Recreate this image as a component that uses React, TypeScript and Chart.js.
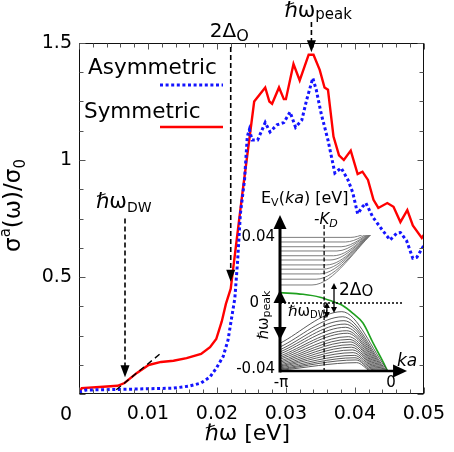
import { useEffect, useRef } from "react";
import { Chart, registerables } from "chart.js";

Chart.register(...registerables);

const FONT = "'DejaVu Sans', 'Noto Sans', sans-serif";

// σ^a(ω)/σ0 versus ħω [eV] for the two stacking orders
const symOmega = [0, 0.0004, 0.003, 0.0056, 0.0066, 0.0084, 0.0101, 0.0119, 0.0137, 0.0156, 0.0177, 0.019, 0.0199, 0.0207, 0.0213, 0.022, 0.0237, 0.0254, 0.027, 0.0276, 0.028, 0.029, 0.0297, 0.03, 0.0311, 0.032, 0.0333, 0.034, 0.0349, 0.0356, 0.0361, 0.0369, 0.0377, 0.0384, 0.0394, 0.0404, 0.0411, 0.0419, 0.0427, 0.0434, 0.0447, 0.0456, 0.0466, 0.0476, 0.0484, 0.0497, 0.05];
const symSigma = [0.004, 0.025, 0.03, 0.035, 0.047, 0.09, 0.124, 0.137, 0.142, 0.153, 0.171, 0.2, 0.235, 0.31, 0.385, 0.45, 0.86, 1.25, 1.31, 1.25, 1.24, 1.31, 1.26, 1.26, 1.41, 1.34, 1.45, 1.45, 1.385, 1.31, 1.3, 1.1, 1.02, 1.0, 1.04, 0.94, 0.95, 0.915, 0.83, 0.795, 0.816, 0.8, 0.735, 0.786, 0.72, 0.667, 0.68];
const asymOmega = [0, 0.001, 0.0066, 0.0137, 0.016, 0.0177, 0.019, 0.0199, 0.0209, 0.0216, 0.0226, 0.023, 0.0234, 0.024, 0.0244, 0.0247, 0.0251, 0.0259, 0.027, 0.0277, 0.0287, 0.0297, 0.0306, 0.0314, 0.0323, 0.033, 0.0339, 0.0344, 0.0351, 0.0361, 0.0371, 0.038, 0.039, 0.0397, 0.0404, 0.0411, 0.0416, 0.0426, 0.044, 0.0451, 0.0461, 0.0466, 0.0475, 0.0484, 0.049, 0.05];
const asymSigma = [0.008, 0.017, 0.02, 0.025, 0.034, 0.047, 0.073, 0.11, 0.16, 0.23, 0.41, 0.57, 0.77, 0.915, 1.1, 1.13, 1.085, 1.085, 1.16, 1.12, 1.15, 1.16, 1.205, 1.14, 1.17, 1.256, 1.35, 1.3, 1.2, 1.085, 0.944, 0.966, 0.915, 0.86, 0.77, 0.8, 0.816, 0.756, 0.7, 0.658, 0.688, 0.69, 0.655, 0.58, 0.585, 0.635];

const xMax = 0.05;
const yMax = 1.5;
const xMinorStep = 0.002;
const xMajorStep = 0.01;
const yMinorStep = 0.125;
const yMajorStep = 0.5;

// marked energies on the spectrum
const twoDeltaO = 0.022;
const twoDeltaOSpan = [1.483, 0.48];
const omegaPeak = 0.0337;
const omegaPeakSpan = [1.59, 1.46];
const omegaDW = 0.00667;
const omegaDWSpan = [0.75, 0.072];
const tangentOmega = [0.0054, 0.0119];
const tangentSigma = [0.018, 0.175];

// inset: valence band structure E_V(ka)
const PI = Math.PI;
const greenKa = [-PI, -2.48, -1.99, -1.61, -1.36, -1.04, -0.75, -0.46, -0.2, -0.04];
const greenE = [0.0061, 0.0051, 0.0034, 0.0008, -0.0012, -0.0061, -0.0118, -0.0235, -0.0335, -0.04];
const upperE = [0.0441, 0.0414, 0.0386, 0.0359, 0.0331, 0.0306, 0.0278, 0.0253, 0.0224, 0.0199, 0.0171, 0.014, 0.0106];
const upperBendKa = [-0.32, -0.95, -1.1, -1.25, -1.38, -1.5, -1.6, -1.7, -1.8, -1.9, -2.0, -2.1, -2.22];
const upperJoinKa = -0.32;
const upperJoinE = 0.0441;
const lowerStartE = [-0.0237, -0.0259, -0.0275, -0.0288, -0.03, -0.0312, -0.0322, -0.0331, -0.0341, -0.0349, -0.0357, -0.0365, -0.0371, -0.0376, -0.0382, -0.0388, -0.0392, -0.0396];
const lowerPeakKa = [-1.36, -1.33, -1.3, -1.27, -1.25, -1.22, -1.2, -1.17, -1.15, -1.12, -1.1, -1.08, -1.05, -1.03, -1.0, -0.98, -0.95, -0.93];
const lowerPeakE = [-0.0051, -0.0081, -0.0104, -0.0124, -0.0143, -0.0163, -0.0178, -0.0198, -0.0214, -0.0229, -0.0245, -0.026, -0.0276, -0.0292, -0.0308, -0.0322, -0.0335, -0.0351];
const lowerEndKa = [-0.03, -0.07, -0.1, -0.13, -0.16, -0.19, -0.22, -0.25, -0.28, -0.31, -0.34, -0.37, -0.4, -0.43, -0.46, -0.5, -0.53, -0.56];
const bandBottomE = -0.04;

const kD = -1.87;
const kDTopE = 0.0459;
const yAxisTipE = 0.0518;
const xAxisTipKa = 0.52;
const zeroLineEndKa = 0.4;
const peakSpanE = [0.0077, -0.0218];
const twoDeltaKa = -1.585;
const twoDeltaSpanE = [0.0118, -0.0059];
const dwKa = -1.79;
const dwSpanE = [0.0006, -0.0088];

type Part = { t: string; size: number; italic?: boolean; dy?: number };

function fontOf(p: Part) {
  return `${p.italic ? "italic " : ""}${p.size}px ${FONT}`;
}

function drawRich(ctx: CanvasRenderingContext2D, x: number, y: number, parts: Part[], align: "left" | "center" | "right" = "left") {
  let w = 0;
  for (const p of parts) {
    ctx.font = fontOf(p);
    w += ctx.measureText(p.t).width;
  }
  let cx = align === "center" ? x - w / 2 : align === "right" ? x - w : x;
  ctx.textAlign = "left";
  ctx.textBaseline = "alphabetic";
  for (const p of parts) {
    ctx.font = fontOf(p);
    ctx.fillText(p.t, cx, y + (p.dy || 0));
    cx += ctx.measureText(p.t).width;
  }
}

function seg(ctx: CanvasRenderingContext2D, x0: number, y0: number, x1: number, y1: number) {
  ctx.beginPath();
  ctx.moveTo(x0, y0);
  ctx.lineTo(x1, y1);
  ctx.stroke();
}

function head(ctx: CanvasRenderingContext2D, tx: number, ty: number, dx: number, dy: number, len: number, half: number) {
  const bx = tx - dx * len;
  const by = ty - dy * len;
  ctx.beginPath();
  ctx.moveTo(tx, ty);
  ctx.lineTo(bx - dy * half, by + dx * half);
  ctx.lineTo(bx + dy * half, by - dx * half);
  ctx.closePath();
  ctx.fill();
}

const isMultiple = (v: number, step: number) => Math.abs(v / step - Math.round(v / step)) < 1e-6;

const mainDecor = {
  id: "mainDecor",
  afterDatasetsDraw(chart: any) {
    const { ctx, chartArea: a, scales } = chart;
    const xs = scales.x;
    const ys = scales.y;
    const X = (v: number) => xs.getPixelForValue(v);
    const Y = (v: number) => ys.getPixelForValue(v);
    ctx.save();

    // frame with inward ticks on all four sides
    const L = Math.round(a.left) + 0.5;
    const R = Math.round(a.right) - 0.5;
    const T = Math.round(a.top) + 0.5;
    const B = Math.round(a.bottom) - 0.5;
    ctx.strokeStyle = "#111";
    ctx.lineWidth = 1;
    ctx.strokeRect(L, T, R - L, B - T);
    ctx.strokeStyle = "#555";
    xs.ticks.forEach((t: any) => {
      const p = Math.round(X(t.value)) + 0.5;
      const len = isMultiple(t.value, xMajorStep) ? 6 : 4;
      seg(ctx, p, B, p, B - len);
      seg(ctx, p, T, p, T + len);
    });
    ys.ticks.forEach((t: any) => {
      const p = Math.round(Y(t.value)) + 0.5;
      const len = isMultiple(t.value, yMajorStep) ? 6 : 4;
      seg(ctx, L, p, L + len, p);
      seg(ctx, R, p, R - len, p);
    });

    ctx.fillStyle = "#000";
    ctx.strokeStyle = "#000";

    // origin label sits left of the corner
    ctx.font = `19px ${FONT}`;
    ctx.textAlign = "center";
    ctx.textBaseline = "middle";
    ctx.fillText("0", a.left - 13, a.bottom + 21);

    // dashed markers
    ctx.lineWidth = 1.6;
    const marker = (omega: number, s0: number, s1: number) => {
      const px = X(omega);
      const y0 = Y(s0);
      const y1 = Y(s1);
      ctx.setLineDash([5, 3]);
      seg(ctx, px, y0, px, y1 - 10);
      ctx.setLineDash([]);
      head(ctx, px, y1, 0, 1, 12, 4.5);
      return px;
    };
    const p2d = marker(twoDeltaO, twoDeltaOSpan[0], twoDeltaOSpan[1]);
    drawRich(ctx, p2d - 21, a.top - 6, [
      { t: "2Δ", size: 20 },
      { t: "O", size: 16, dy: 4 },
    ]);
    const pPk = marker(omegaPeak, omegaPeakSpan[0], omegaPeakSpan[1]);
    drawRich(ctx, pPk - 27, a.top - 26, [
      { t: "ℏω", size: 21 },
      { t: "peak", size: 15, dy: 2 },
    ]);
    const pDw = marker(omegaDW, omegaDWSpan[0], omegaDWSpan[1]);
    drawRich(ctx, pDw - 29, Y(omegaDWSpan[0]) - 11, [
      { t: "ℏω", size: 21 },
      { t: "DW", size: 14, dy: 4 },
    ]);

    // tangent at the DW onset
    ctx.setLineDash([6, 4]);
    ctx.lineWidth = 1.4;
    seg(ctx, X(tangentOmega[0]), Y(tangentSigma[0]), X(tangentOmega[1]), Y(tangentSigma[1]));
    ctx.setLineDash([]);

    // legend: label above a line sample
    const ds = chart.data.datasets;
    const legendRows = [
      { ds: ds[0], textX: a.left + 9, base: a.top + 31, lineY: a.top + 42 },
      { ds: ds[1], textX: a.left + 5, base: a.top + 75, lineY: a.top + 84 },
    ];
    legendRows.forEach((r) => {
      ctx.fillStyle = "#000";
      drawRich(ctx, r.textX, r.base, [{ t: r.ds.label, size: 21.5 }]);
      ctx.strokeStyle = r.ds.borderColor;
      ctx.lineWidth = r.ds.borderWidth;
      ctx.lineCap = "butt";
      ctx.setLineDash(r.ds.borderDash || []);
      seg(ctx, a.left + 81, r.lineY, a.left + 144, r.lineY);
      ctx.setLineDash([]);
    });

    // axis titles
    ctx.fillStyle = "#000";
    drawRich(ctx, (a.left + a.right) / 2 - 4, a.bottom + 46, [{ t: "ℏω [eV]", size: 22 }], "center");
    ctx.save();
    ctx.translate(20, (a.top + a.bottom) / 2 - 13);
    ctx.rotate(-Math.PI / 2);
    drawRich(ctx, 0, 0, [
      { t: "σ", size: 23 },
      { t: "a", size: 15, dy: -10 },
      { t: "(ω)/σ", size: 23 },
      { t: "0", size: 15, dy: 5 },
    ], "center");
    ctx.restore();

    ctx.restore();
  },
};

const insetDecor = {
  id: "insetDecor",
  afterDatasetsDraw(chart: any) {
    const { ctx, scales } = chart;
    const X = (v: number) => scales.x.getPixelForValue(v);
    const Y = (v: number) => scales.y.getPixelForValue(v);
    const x0 = X(-PI);
    const yB = Y(bandBottomE);
    ctx.save();
    ctx.strokeStyle = "#000";
    ctx.fillStyle = "#000";

    // -K_D and E = 0 guides
    ctx.lineWidth = 1.3;
    ctx.setLineDash([4, 2.5]);
    seg(ctx, X(kD), Y(kDTopE), X(kD), yB);
    ctx.setLineDash([2, 2]);
    seg(ctx, x0, Y(0), X(zeroLineEndKa), Y(0));
    ctx.setLineDash([]);

    // axes as arrows
    ctx.lineWidth = 3;
    seg(ctx, x0, yB + 1.5, x0, Y(yAxisTipE) + 12);
    head(ctx, x0, Y(yAxisTipE), 0, -1, 14, 6.5);
    ctx.lineWidth = 2.5;
    seg(ctx, x0, yB, X(xAxisTipKa) - 12, yB);
    head(ctx, X(xAxisTipKa), yB, 1, 0, 14, 6.5);

    // ħω_peak span on the energy axis
    head(ctx, x0, Y(peakSpanE[0]), 0, -1, 13, 6.5);
    head(ctx, x0, Y(peakSpanE[1]), 0, 1, 13, 6.5);

    // 2Δ_O and ħω_DW double arrows
    const dbl = (k: number, e0: number, e1: number) => {
      const px = X(k);
      ctx.lineWidth = 1.3;
      seg(ctx, px, Y(e0) + 5, px, Y(e1) - 5);
      head(ctx, px, Y(e0), 0, -1, 6, 3);
      head(ctx, px, Y(e1), 0, 1, 6, 3);
    };
    dbl(twoDeltaKa, twoDeltaSpanE[0], twoDeltaSpanE[1]);
    dbl(dwKa, dwSpanE[0], dwSpanE[1]);

    // tick labels
    ctx.font = `15px ${FONT}`;
    ctx.textBaseline = "middle";
    ctx.textAlign = "right";
    ctx.fillText("0.04", x0 - 5, Y(0.04) + 2);
    ctx.fillText("-0.04", x0 - 5, yB - 2);
    ctx.fillText("0", x0 - 21, Y(0));
    ctx.textAlign = "center";
    ctx.fillText("-π", x0 + 1, yB + 12);
    ctx.fillText("0", X(0) + 2, yB + 12);

    // labels
    drawRich(ctx, X(0) + 8, yB - 5, [{ t: "ka", size: 17, italic: true }]);
    drawRich(ctx, x0 - 19, Y(0.04) - 32, [
      { t: "E", size: 16 },
      { t: "V", size: 11, dy: 3 },
      { t: "(", size: 16 },
      { t: "ka", size: 16, italic: true },
      { t: ") [eV]", size: 16 },
    ]);
    drawRich(ctx, X(kD) - 10, Y(0.04) - 11, [
      { t: "-K", size: 15, italic: true },
      { t: "D", size: 11, italic: true, dy: 3 },
    ]);
    drawRich(ctx, X(twoDeltaKa) + 5, Y(0) - 8, [
      { t: "2Δ", size: 17 },
      { t: "O", size: 15, dy: 1 },
    ]);
    drawRich(ctx, x0 + 8, Y(0) + 13, [
      { t: "ℏω", size: 15 },
      { t: "DW", size: 10, dy: 2 },
    ]);
    ctx.save();
    ctx.translate(x0 - 12, Y((peakSpanE[0] + peakSpanE[1]) / 2));
    ctx.rotate(-Math.PI / 2);
    drawRich(ctx, 0, 0, [
      { t: "ℏω", size: 15 },
      { t: "peak", size: 11, dy: 2 },
    ], "center");
    ctx.restore();

    ctx.restore();
  },
};

export default function App() {
  const mainRef = useRef<HTMLCanvasElement>(null);
  const insetRef = useRef<HTMLCanvasElement>(null);

  useEffect(() => {
    const xLabel = (v: any) => {
      const n = Math.round(Number(v) / xMajorStep);
      return isMultiple(Number(v), xMajorStep) && n > 0 ? (n * xMajorStep).toFixed(2) : "";
    };
    const yLabel = (v: any) => {
      const n = Math.round(Number(v) / yMajorStep);
      return isMultiple(Number(v), yMajorStep) && n > 0 ? String(n * yMajorStep) : "";
    };

    const main = new Chart(mainRef.current as HTMLCanvasElement, {
      type: "scatter",
      data: {
        datasets: [
          {
            label: "Asymmetric",
            data: asymOmega.map((x, i) => ({ x, y: asymSigma[i] })),
            showLine: true,
            borderColor: "#1414ff",
            borderWidth: 3,
            borderDash: [3, 2.6],
            borderCapStyle: "butt",
            pointRadius: 0,
            fill: false,
          },
          {
            label: "Symmetric",
            data: symOmega.map((x, i) => ({ x, y: symSigma[i] })),
            showLine: true,
            borderColor: "#ff0000",
            borderWidth: 2.4,
            pointRadius: 0,
            fill: false,
          },
        ],
      },
      options: {
        responsive: false,
        animation: false,
        events: [],
        layout: { padding: { top: 43, right: 25, left: 0, bottom: 0 } },
        plugins: { legend: { display: false }, tooltip: { enabled: false } },
        scales: {
          x: {
            type: "linear",
            min: 0,
            max: xMax,
            afterFit: (s: any) => {
              s.height = 58;
            },
            grid: { display: false, drawTicks: false },
            border: { display: false },
            ticks: {
              stepSize: xMinorStep,
              autoSkip: false,
              maxRotation: 0,
              padding: 9,
              color: "#000",
              font: { family: FONT, size: 19 },
              callback: xLabel,
            },
          },
          y: {
            type: "linear",
            min: 0,
            max: yMax,
            afterFit: (s: any) => {
              s.width = 79;
            },
            grid: { display: false, drawTicks: false },
            border: { display: false },
            ticks: {
              stepSize: yMinorStep,
              autoSkip: false,
              padding: 7,
              color: "#000",
              font: { family: FONT, size: 19 },
              callback: yLabel,
            },
          },
        },
      } as any,
      plugins: [mainDecor],
    });

    const bandStyle = { showLine: true, pointRadius: 0, fill: false, cubicInterpolationMode: "monotone" as const };
    const insetSets: any[] = [];
    upperE.forEach((e, i) => {
      const pts = upperBendKa[i] >= upperJoinKa
        ? [{ x: -PI, y: e }, { x: upperJoinKa, y: e }]
        : [{ x: -PI, y: e }, { x: upperBendKa[i], y: e }, { x: upperJoinKa, y: upperJoinE }];
      insetSets.push({ ...bandStyle, data: pts, borderColor: "#6e6e6e", borderWidth: 0.9 });
    });
    lowerStartE.forEach((e, i) => {
      insetSets.push({
        ...bandStyle,
        data: [
          { x: -PI, y: e },
          { x: lowerPeakKa[i], y: lowerPeakE[i] },
          { x: lowerEndKa[i], y: bandBottomE },
        ],
        borderColor: "#3c3c3c",
        borderWidth: 0.85,
      });
    });
    insetSets.push({
      ...bandStyle,
      data: greenKa.map((x, i) => ({ x, y: greenE[i] })),
      borderColor: "#1fa01f",
      borderWidth: 1.6,
    });

    const inset = new Chart(insetRef.current as HTMLCanvasElement, {
      type: "scatter",
      data: { datasets: insetSets },
      options: {
        responsive: false,
        animation: false,
        events: [],
        layout: { padding: { left: 50, top: 50, right: 31, bottom: 24 } },
        plugins: { legend: { display: false }, tooltip: { enabled: false } },
        scales: {
          x: { type: "linear", min: -PI, max: 0, display: false },
          y: { type: "linear", min: -0.04, max: 0.04, display: false },
        },
      } as any,
      plugins: [insetDecor],
    });

    return () => {
      main.destroy();
      inset.destroy();
    };
  }, []);

  return (
    <div style={{ position: "absolute", left: 0, top: 0, width: 454, height: 452, background: "#fff" }}>
      <canvas ref={mainRef} width={454} height={452} style={{ position: "absolute", left: 0, top: 0, width: 454, height: 452 }} />
      <canvas ref={insetRef} width={190} height={210} style={{ position: "absolute", left: 230, top: 185, width: 190, height: 210 }} />
    </div>
  );
}
